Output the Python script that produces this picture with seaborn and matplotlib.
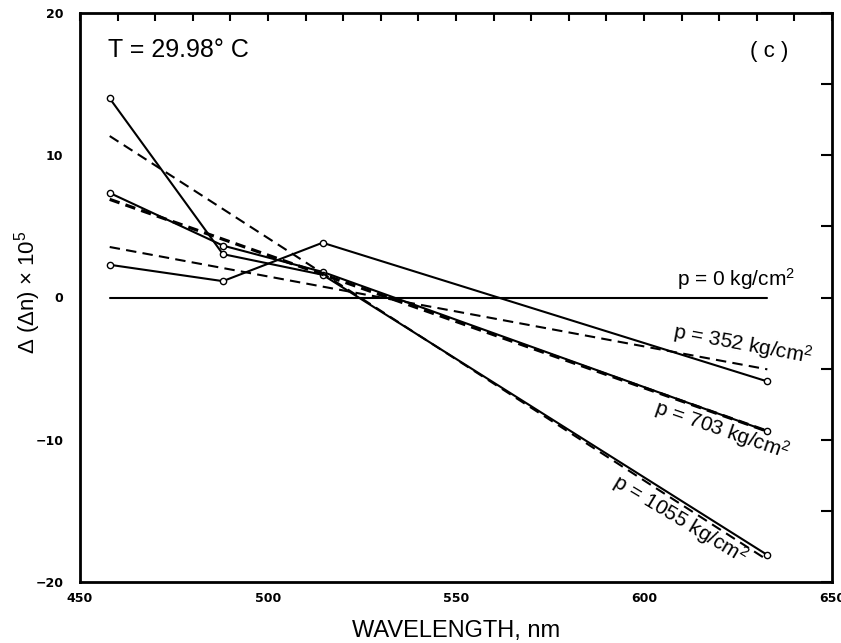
import pandas as pd
import seaborn as sns
import matplotlib.pyplot as plt
from matplotlib.ticker import MultipleLocator

# measured points (solid lines with circles)
wavelength = [457.9, 488.0, 514.5, 632.8]
dn_p0 = [0.0, 0.0, 0.0, 0.0]
dn_p352 = [2.3, 1.15, 3.85, -5.9]
dn_p703 = [7.35, 3.65, 1.8, -9.4]
dn_p1055 = [14.0, 3.05, 1.6, -18.1]

# fitted curves (dashed)
fit_wavelength = [457.9, 632.8]
fit_p352 = [3.55, -5.05]
fit_p703 = [6.9, -9.4]
fit_p1055 = [11.35, -18.45]

pressure_labels = ['p = 0 kg/cm$^2$', 'p = 352 kg/cm$^2$',
                   'p = 703 kg/cm$^2$', 'p = 1055 kg/cm$^2$']

sns.set_theme(style="white")
plt.rcParams['font.family'] = ['Liberation Sans', 'DejaVu Sans']
plt.rcParams['mathtext.fontset'] = 'custom'
plt.rcParams['mathtext.rm'] = 'Liberation Sans'
plt.rcParams['mathtext.default'] = 'regular'
plt.rcParams['text.color'] = 'black'
plt.rcParams['axes.labelcolor'] = 'black'
plt.rcParams['xtick.color'] = 'black'
plt.rcParams['ytick.color'] = 'black'

medidas = pd.DataFrame({
    'wl': wavelength * 4,
    'dn': dn_p0 + dn_p352 + dn_p703 + dn_p1055,
    'serie': ['0'] * 4 + ['352'] * 4 + ['703'] * 4 + ['1055'] * 4,
})
ajustes = pd.DataFrame({
    'wl': fit_wavelength * 3,
    'dn': fit_p352 + fit_p703 + fit_p1055,
    'serie': ['352'] * 2 + ['703'] * 2 + ['1055'] * 2,
})

fig = plt.figure(figsize=(8.41, 6.43), dpi=100)
ax = fig.add_axes([80 / 841, 1 - 582 / 643, 752 / 841, 569 / 643])

# linha de referencia p = 0 (sem marcadores)
sns.lineplot(data=medidas[medidas['serie'] == '0'], x='wl', y='dn', ax=ax,
             color='black', lw=1.5, estimator=None)

# series medidas
for s in ['352', '703', '1055']:
    sns.lineplot(data=medidas[medidas['serie'] == s], x='wl', y='dn', ax=ax,
                 color='black', lw=1.5, estimator=None, marker='o', ms=4.5,
                 mfc='white', mec='black', mew=1.0)

# ajustes tracejados
for s, lw in [('352', 1.5), ('703', 2.3), ('1055', 1.5)]:
    linha = sns.lineplot(data=ajustes[ajustes['serie'] == s], x='wl', y='dn', ax=ax,
                         color='black', lw=lw, estimator=None)
    linha.lines[-1].set_dashes((7.5 / lw, 4.5 / lw))

ax.set_xlim(450, 650)
ax.set_ylim(-20, 20)
ax.xaxis.set_major_locator(MultipleLocator(50))
ax.xaxis.set_minor_locator(MultipleLocator(10))
ax.yaxis.set_major_locator(MultipleLocator(10))
ax.yaxis.set_minor_locator(MultipleLocator(5))
ax.tick_params(which='both', direction='in', top=True, right=True,
               width=1.5, color='black')
ax.tick_params(which='major', length=8, labelsize=9, pad=7)
ax.tick_params(which='minor', length=8)
ax.tick_params(axis='x', which='both', length=6)
ax.tick_params(axis='y', which='major', pad=12)
for lab in ax.get_xticklabels() + ax.get_yticklabels():
    lab.set_fontweight('heavy')
    lab.set_family('DejaVu Sans')
for sp in ax.spines.values():
    sp.set_linewidth(2)
    sp.set_color('black')

ax.set_xlabel('WAVELENGTH, nm', fontsize=17, labelpad=11)
ax.set_ylabel('$\\Delta$ ($\\Delta$n) $\\times$ 10$^5$', fontsize=16)
ax.yaxis.set_label_coords(-0.049, 0.51)

ax.text(457.5, 17.4, 'T = 29.98° C', fontsize=18, va='center', ha='left')
ax.text(638.3, 17.3, '( c )', fontsize=16, va='center', ha='right')

ax.text(624.5, 1.3, pressure_labels[0], fontsize=15, ha='center', va='center')
ax.text(626.3, -3.3, pressure_labels[1], fontsize=15, ha='center', va='center',
        rotation=-10.5, rotation_mode='anchor')
ax.text(620.7, -9.3, pressure_labels[2], fontsize=15, ha='center', va='center',
        rotation=-19, rotation_mode='anchor')
ax.text(609.6, -15.6, pressure_labels[3], fontsize=15, ha='center', va='center',
        rotation=-31, rotation_mode='anchor')

fig.savefig('out.png', dpi=100)
